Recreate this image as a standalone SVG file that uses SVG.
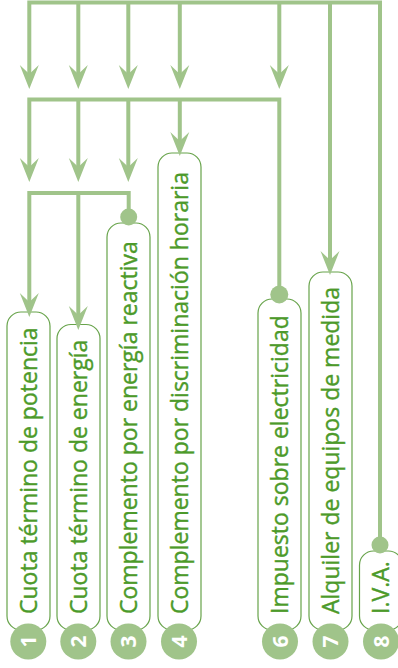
<svg xmlns="http://www.w3.org/2000/svg" width="398" height="668" viewBox="0 0 398 668">
<style>
.box{fill:#fff;stroke:#67a34a;stroke-width:1.2}
.lbl{font-family:"Open Sans","Noto Sans",sans-serif;font-size:23px;fill:#4c9a2a;stroke:#4c9a2a;stroke-width:0.4}
.num{fill:#a0c48a}
.nt{font-family:"Open Sans","Noto Sans",sans-serif;font-size:21px;font-weight:700;fill:#fff;text-anchor:middle}
.ln{fill:none;stroke:#a0c48a;stroke-width:4;stroke-linejoin:miter}
.ar{marker-end:url(#ah)}
.dot{fill:#a0c48a}
</style>
<defs>
<marker id="ah" viewBox="-24 -10 24 20" refX="-14" refY="0" markerWidth="24" markerHeight="20" markerUnits="userSpaceOnUse" orient="auto">
<path d="M0,0 L-24,-9.5 L-15,0 L-24,9.5 Z" fill="#a0c48a"/>
</marker>
</defs>
<g id="node1">
<rect class="box" x="7" y="312" width="43" height="318" rx="14"/>
<text class="lbl" transform="translate(37,614) rotate(-90)">Cuota término de potencia</text>
<circle class="num" cx="28.3" cy="641.5" r="18"/>
<text class="nt" transform="translate(35.8,641.5) rotate(-90)">1</text>
</g>
<g id="node2">
<rect class="box" x="57" y="324.5" width="43" height="305.5" rx="14"/>
<text class="lbl" transform="translate(87,614) rotate(-90)">Cuota término de energía</text>
<circle class="num" cx="78.3" cy="641.5" r="18"/>
<text class="nt" transform="translate(85.8,641.5) rotate(-90)">2</text>
</g>
<g id="node3">
<rect class="box" x="107" y="223" width="43" height="407" rx="14"/>
<text class="lbl" transform="translate(137,614) rotate(-90)">Complemento por energía reactiva</text>
<circle class="num" cx="128.5" cy="641.5" r="18"/>
<text class="nt" transform="translate(136,641.5) rotate(-90)">3</text>
</g>
<g id="node4">
<rect class="box" x="158" y="153" width="43" height="477" rx="14"/>
<text class="lbl" transform="translate(188,614) rotate(-90)">Complemento por discriminación horaria</text>
<circle class="num" cx="179" cy="641.5" r="18"/>
<text class="nt" transform="translate(186.5,641.5) rotate(-90)">4</text>
</g>
<g id="node6">
<rect class="box" x="258" y="299" width="43" height="331" rx="14"/>
<text class="lbl" transform="translate(288,614) rotate(-90)">Impuesto sobre electricidad</text>
<circle class="num" cx="280" cy="641.5" r="18"/>
<text class="nt" transform="translate(287.5,641.5) rotate(-90)">6</text>
</g>
<g id="node7">
<rect class="box" x="309" y="272" width="43" height="358" rx="14"/>
<text class="lbl" transform="translate(339,614) rotate(-90)">Alquiler de equipos de medida</text>
<circle class="num" cx="330.5" cy="641.5" r="18"/>
<text class="nt" transform="translate(338,641.5) rotate(-90)">7</text>
</g>
<g id="node8">
<rect class="box" x="359.5" y="551" width="43" height="79" rx="14"/>
<text class="lbl" transform="translate(389,614) rotate(-90)">I.V.A.</text>
<circle class="num" cx="381" cy="641.5" r="18"/>
<text class="nt" transform="translate(388.5,641.5) rotate(-90)">8</text>
</g>
<g id="connectors">
<path class="ln ar" d="M380,545 V2.5 H29.3 V75"/>
<path class="ln ar" d="M78.3,2.5 V75"/>
<path class="ln ar" d="M128.3,2.5 V75"/>
<path class="ln ar" d="M179.8,2.5 V75"/>
<path class="ln ar" d="M279.3,2.5 V75"/>
<path class="ln ar" d="M330,2.5 V261"/>
<path class="ln ar" d="M279.3,294 V99.5 H29.3 V168"/>
<path class="ln ar" d="M78.3,99.5 V168"/>
<path class="ln ar" d="M128.3,99.5 V168"/>
<path class="ln ar" d="M179.8,99.5 V142"/>
<path class="ln ar" d="M128.7,217 V193 H29.3 V303"/>
<path class="ln ar" d="M78.3,193 V316"/>
<circle class="dot" cx="128.7" cy="217" r="8.5"/>
<circle class="dot" cx="279.3" cy="294.5" r="9"/>
<circle class="dot" cx="380" cy="545" r="8.5"/>
</g>
</svg>
